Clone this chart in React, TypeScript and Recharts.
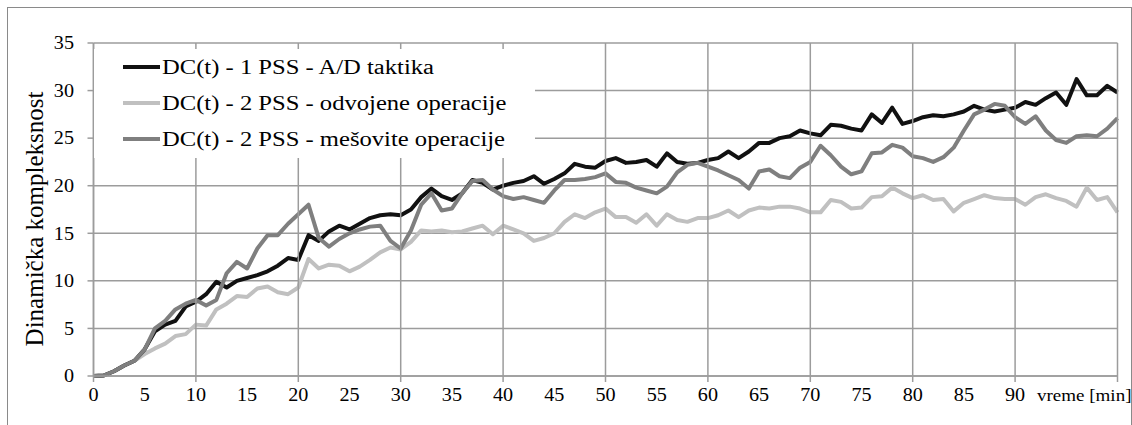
import React from "react";
import {
  LineChart,
  Line,
  XAxis,
  YAxis,
  CartesianGrid,
  Legend,
} from "recharts";

// time axis in minutes (0 .. 100)
const minutes = Array.from({ length: 101 }, (_, i) => i);

const adTaktika = [
  0, 0.05, 0.5, 1.1, 1.6, 2.8, 4.7, 5.4, 5.8, 7.3,
  7.8, 8.6, 9.9, 9.3, 10.0, 10.3, 10.6, 11.0, 11.6, 12.4,
  12.2, 14.8, 14.2, 15.2, 15.8, 15.4, 16.0, 16.6, 16.9, 17.0,
  16.9, 17.5, 18.8, 19.7, 18.9, 18.5, 19.2, 20.6, 20.3, 19.6,
  20.0, 20.3, 20.5, 21.0, 20.2, 20.7, 21.3, 22.3, 22.0, 21.9,
  22.6, 22.9, 22.4, 22.5, 22.7, 22.0, 23.4, 22.5, 22.3, 22.4,
  22.7, 22.9, 23.6, 22.9, 23.6, 24.5, 24.5, 25.0, 25.2, 25.8,
  25.5, 25.3, 26.4, 26.3, 26.0, 25.8, 27.5, 26.6, 28.2, 26.5,
  26.8, 27.2, 27.4, 27.3, 27.5, 27.8, 28.4, 28.0, 27.8, 28.0,
  28.2, 28.8, 28.5, 29.2, 29.8, 28.5, 31.2, 29.5, 29.5, 30.5,
  29.8,
];

const odvojene = [
  0, 0.05, 0.5, 1.1, 1.6, 2.3, 2.9, 3.4, 4.2, 4.4,
  5.4, 5.3, 7.0, 7.6, 8.4, 8.3, 9.2, 9.4, 8.8, 8.6,
  9.3, 12.3, 11.3, 11.7, 11.6, 11.0, 11.5, 12.2, 13.0, 13.5,
  13.3, 14.1, 15.3, 15.2, 15.3, 15.1, 15.2, 15.5, 15.8, 14.9,
  15.8, 15.4, 15.0, 14.2, 14.5, 15.0, 16.2, 17.0, 16.6, 17.2,
  17.6, 16.7, 16.7, 16.1, 17.0, 15.8, 17.0, 16.4, 16.2, 16.6,
  16.6, 16.9, 17.4, 16.7, 17.4, 17.7, 17.6, 17.8, 17.8, 17.6,
  17.2, 17.2, 18.5, 18.3, 17.6, 17.7, 18.8, 18.9, 19.8, 19.2,
  18.7, 19.0, 18.5, 18.6, 17.3, 18.2, 18.6, 19.0, 18.7, 18.6,
  18.6, 18.0, 18.8, 19.1, 18.7, 18.4, 17.8, 19.8, 18.5, 18.8,
  17.2,
];

const mesovite = [
  0, 0.05, 0.5, 1.1, 1.6, 2.8, 5.0, 5.8, 7.0, 7.6,
  8.0, 7.4, 8.0, 10.8, 12.0, 11.3, 13.4, 14.8, 14.8, 16.0,
  17.0, 18.0, 14.5, 13.6, 14.4, 15.0, 15.4, 15.7, 15.8, 14.2,
  13.4, 15.3, 18.0, 19.2, 17.4, 17.6, 19.2, 20.5, 20.6, 19.6,
  18.9, 18.6, 18.8, 18.5, 18.2, 19.5, 20.6, 20.6, 20.7, 20.9,
  21.3, 20.4, 20.3, 19.8, 19.5, 19.2, 19.9, 21.4, 22.2, 22.4,
  22.0, 21.6, 21.1, 20.6, 19.7, 21.5, 21.7, 21.0, 20.8, 21.9,
  22.5, 24.2, 23.2, 22.0, 21.2, 21.5, 23.4, 23.5, 24.3, 24.0,
  23.1, 22.9, 22.5, 23.0, 24.0, 25.8, 27.5, 28.0, 28.6, 28.4,
  27.2, 26.5, 27.3, 25.8, 24.8, 24.5, 25.2, 25.3, 25.2, 26.0,
  27.1,
];

const xTicks = [0, 5, 10, 15, 20, 25, 30, 35, 40, 45, 50, 55, 60, 65, 70, 75, 80, 85, 90, 100];
const xGrid = [0, 10, 20, 30, 40, 50, 60, 70, 80, 90, 100];
const yTicks = [0, 5, 10, 15, 20, 25, 30, 35];

const series = [
  { key: "ad", name: "DC(t) - 1 PSS - A/D taktika", color: "#111111" },
  { key: "odv", name: "DC(t) - 2 PSS - odvojene operacije", color: "#c0c0c0" },
  { key: "mes", name: "DC(t) - 2 PSS - mešovite operacije", color: "#7f7f7f" },
];

const data = minutes.map((t, i) => ({
  t,
  ad: adTaktika[i],
  odv: odvojene[i],
  mes: mesovite[i],
}));

const FONT = '"Liberation Serif", "Times New Roman", serif';
const GRID = "#9c9c9c";
const PLOT_H = 333;

const NoTick = () => <g />;

const XLabel = (props: any) => {
  const { x, y, payload } = props;
  const v = payload.value;
  const last = v === 100;
  return (
    <text
      transform={`translate(${last ? x + 14 : x},${y + 19}) scale(1.12,1)`}
      textAnchor={last ? "end" : "middle"}
      fontSize={last ? 17 : 18}
      fontFamily={FONT}
      fill="#000"
    >
      {last ? "vreme [min]" : v}
    </text>
  );
};

const YTick = (props: any) => {
  const { x, y, payload } = props;
  return (
    <text
      transform={`translate(${x},${y}) scale(1.12,1)`}
      textAnchor="end"
      dy="0.35em"
      fontSize={18}
      fontFamily={FONT}
      fill="#000"
    >
      {payload.value}
    </text>
  );
};

const LegendBox = () => (
  <div style={{ fontFamily: FONT, fontSize: 20, color: "#000" }}>
    {series.map((s) => (
      <div key={s.key} style={{ height: 36, display: "flex", alignItems: "center" }}>
        <div style={{ width: 29 }} />
        <div style={{ width: 37, height: 4, background: s.color }} />
        <span
          style={{
            marginLeft: 2,
            display: "inline-block",
            transform: "scaleX(1.23)",
            transformOrigin: "left center",
            whiteSpace: "nowrap",
          }}
        >
          {s.name}
        </span>
      </div>
    ))}
  </div>
);

export default function App() {
  return (
    <div
      style={{
        position: "absolute",
        left: 7,
        top: 7,
        width: 1123,
        height: 418,
        borderTop: "1px solid #8a8a8a",
        borderLeft: "1px solid #8a8a8a",
        borderRight: "1px solid #8a8a8a",
        background: "#fff",
      }}
    >
      <LineChart
        width={1123}
        height={417}
        data={data}
        margin={{ top: 34, right: 13.5, left: 0, bottom: 19 }}
      >
        <CartesianGrid stroke={GRID} strokeWidth={1.5} vertical={false} />
        {/* vertical grid: top axis whose tick lines run down through the plot */}
        <XAxis
          xAxisId="grid"
          orientation="top"
          dataKey="t"
          type="number"
          domain={[0, 100]}
          ticks={xGrid}
          interval={0}
          height={1}
          tickSize={-PLOT_H}
          tickLine={{ stroke: GRID, strokeWidth: 1.5 }}
          axisLine={false}
          tick={<NoTick />}
        />
        {/* x axis line with tick marks every 10 min */}
        <XAxis
          dataKey="t"
          type="number"
          domain={[0, 100]}
          ticks={xGrid}
          interval={0}
          height={6}
          tickSize={6}
          tickLine={{ stroke: GRID, strokeWidth: 1.5 }}
          axisLine={{ stroke: GRID, strokeWidth: 1.5 }}
          tick={<NoTick />}
        />
        {/* tick labels every 5 min */}
        <XAxis
          xAxisId="labels"
          dataKey="t"
          type="number"
          domain={[0, 100]}
          ticks={xTicks}
          interval={0}
          height={24}
          tickSize={0}
          tickMargin={0}
          tickLine={false}
          axisLine={false}
          tick={<XLabel />}
        />
        <YAxis
          type="number"
          domain={[0, 35]}
          ticks={yTicks}
          interval={0}
          width={85.5}
          tickSize={6}
          tickMargin={13.5}
          tickLine={{ stroke: GRID, strokeWidth: 1.5 }}
          axisLine={{ stroke: GRID, strokeWidth: 1.5 }}
          tick={<YTick />}
          label={{
            content: () => (
              <text
                transform="translate(35,211) rotate(-90)"
                textAnchor="middle"
                fontSize={25}
                fontFamily={FONT}
                fill="#000"
              >
                Dinamička kompleksnost
              </text>
            ),
          }}
        />
        <Legend
          layout="horizontal"
          verticalAlign="middle"
          align="center"
          content={<LegendBox />}
          wrapperStyle={{
            position: "absolute",
            left: 86,
            top: 41,
            width: 441,
            height: 109,
            background: "#fff",
            margin: 0,
          }}
        />
        <Line
          dataKey="odv"
          stroke={series[1].color}
          strokeWidth={4}
          dot={false}
          isAnimationActive={false}
          strokeLinejoin="round"
        />
        <Line
          dataKey="ad"
          stroke={series[0].color}
          strokeWidth={4}
          dot={false}
          isAnimationActive={false}
          strokeLinejoin="round"
        />
        <Line
          dataKey="mes"
          stroke={series[2].color}
          strokeWidth={4}
          dot={false}
          isAnimationActive={false}
          strokeLinejoin="round"
        />
      </LineChart>
    </div>
  );
}
